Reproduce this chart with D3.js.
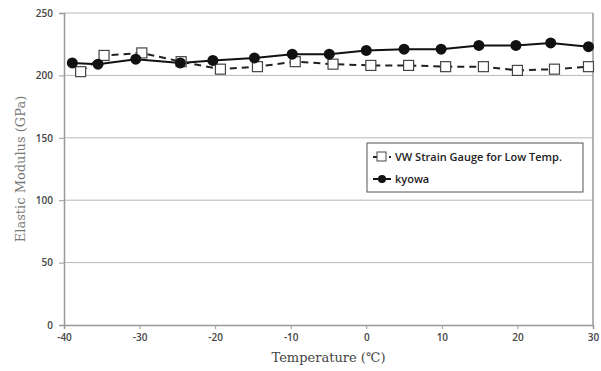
<!DOCTYPE html>
<head>
<meta charset="utf-8">
<title>Elastic Modulus</title>
<style>
body { margin: 0; background: #fff; }
</style>
</head>
<body>
<div id="chart"></div>

<script src="https://cdn.jsdelivr.net/npm/d3@7"></script>
<script>
// data
const vwTemps   = [-37.8, -34.7, -29.7, -24.5, -19.3, -14.4, -9.4, -4.4, 0.6, 5.6, 10.5, 15.5, 20, 24.9, 29.4];
const vwValues  = [203, 216, 218, 211, 205, 207, 211, 209, 208, 208, 207, 207, 204, 205, 207];
const kyTemps   = [-38.9, -35.5, -30.5, -24.6, -20.3, -14.8, -9.8, -4.9, 0, 5, 9.9, 14.9, 19.8, 24.4, 29.4];
const kyValues  = [210, 209, 213, 210, 212, 214, 217, 217, 220, 221, 221, 224, 224, 226, 223];
const xTicks    = [-40, -30, -20, -10, 0, 10, 20, 30];
const yTicks    = [0, 50, 100, 150, 200, 250];
const legendLabels = ["VW Strain Gauge for Low Temp.", "kyowa"];

const W = 601, H = 371;
const margin = {left: 64, right: 8, top: 13, bottom: 46};

const svg = d3.select("#chart").append("svg")
	.attr("width", W).attr("height", H);

const x = d3.scaleLinear().domain([-40, 30]).range([margin.left, W - margin.right]);
const y = d3.scaleLinear().domain([0, 250]).range([H - margin.bottom, margin.top]);

// grid
svg.append("g").selectAll("line").data(yTicks.filter(d => d > 0)).join("line")
	.attr("x1", x(-40)).attr("x2", x(30))
	.attr("y1", d => y(d)).attr("y2", d => y(d))
	.attr("stroke", "#b8b8b8").attr("stroke-width", 1);

// right border
svg.append("line")
	.attr("x1", x(30)).attr("x2", x(30))
	.attr("y1", y(250)).attr("y2", y(0))
	.attr("stroke", "#999").attr("stroke-width", 1.5);

// axes
const xAxis = svg.append("g")
	.attr("transform", `translate(0,${y(0)})`)
	.call(d3.axisBottom(x).tickValues(xTicks).tickFormat(d => String(d)).tickSize(4).tickPadding(5));
const yAxis = svg.append("g")
	.attr("transform", `translate(${x(-40)},0)`)
	.call(d3.axisLeft(y).tickValues(yTicks).tickFormat(d => String(d)).tickSize(5).tickPadding(6));

[xAxis, yAxis].forEach(g => {
	g.select(".domain").attr("stroke", "#999").attr("stroke-width", 1.5);
	g.selectAll(".tick line").attr("stroke", "#999");
	g.selectAll("text")
		.attr("font-family", "'Open Sans', sans-serif")
		.attr("font-size", 10).attr("font-weight", 600)
		.attr("fill", "#444");
});

// axis titles
svg.append("text")
	.attr("x", (x(-40) + x(30)) / 2).attr("y", 362)
	.attr("text-anchor", "middle")
	.attr("font-family", "'DejaVu Serif', serif").attr("font-size", 13)
	.attr("fill", "#444")
	.text("Temperature (\u2103)");

svg.append("text")
	.attr("transform", `translate(25,${(y(0) + y(250)) / 2}) rotate(-90)`)
	.attr("text-anchor", "middle")
	.attr("font-family", "'DejaVu Serif', serif").attr("font-size", 13)
	.attr("fill", "#777")
	.text("Elastic Modulus (GPa)");

// lines
const line = d3.line().x(d => x(d[0])).y(d => y(d[1]));
const vw = d3.zip(vwTemps, vwValues);
const ky = d3.zip(kyTemps, kyValues);

svg.append("path").datum(vw)
	.attr("d", line).attr("fill", "none")
	.attr("stroke", "#222").attr("stroke-width", 2)
	.attr("stroke-dasharray", "7,5");

svg.append("path").datum(ky)
	.attr("d", line).attr("fill", "none")
	.attr("stroke", "#111").attr("stroke-width", 2);

svg.append("g").selectAll("rect").data(vw).join("rect")
	.attr("x", d => x(d[0]) - 5).attr("y", d => y(d[1]) - 5)
	.attr("width", 10).attr("height", 10)
	.attr("fill", "#fff").attr("stroke", "#444").attr("stroke-width", 1.2);

svg.append("g").selectAll("circle").data(ky).join("circle")
	.attr("cx", d => x(d[0])).attr("cy", d => y(d[1]))
	.attr("r", 5.5).attr("fill", "#111");

// legend
const lg = svg.append("g").attr("transform", "translate(367,143)");
lg.append("rect").attr("width", 216).attr("height", 49)
	.attr("fill", "#fff").attr("stroke", "#555").attr("stroke-width", 1);

lg.append("line").attr("x1", 6).attr("x2", 24).attr("y1", 14).attr("y2", 14)
	.attr("stroke", "#222").attr("stroke-width", 2).attr("stroke-dasharray", "5,3");
lg.append("rect").attr("x", 10).attr("y", 9).attr("width", 9).attr("height", 9)
	.attr("fill", "#fff").attr("stroke", "#444");
lg.append("line").attr("x1", 6).attr("x2", 24).attr("y1", 36).attr("y2", 36)
	.attr("stroke", "#111").attr("stroke-width", 2);
lg.append("circle").attr("cx", 15).attr("cy", 36).attr("r", 4).attr("fill", "#111");

lg.selectAll("text.lab").data(legendLabels).join("text")
	.attr("class", "lab")
	.attr("x", 28).attr("y", (d, i) => 18 + i * 22)
	.attr("font-family", "'Open Sans', sans-serif")
	.attr("font-size", 11).attr("font-weight", 600)
	.attr("fill", "#222")
	.text(d => d);
</script>
</body>
